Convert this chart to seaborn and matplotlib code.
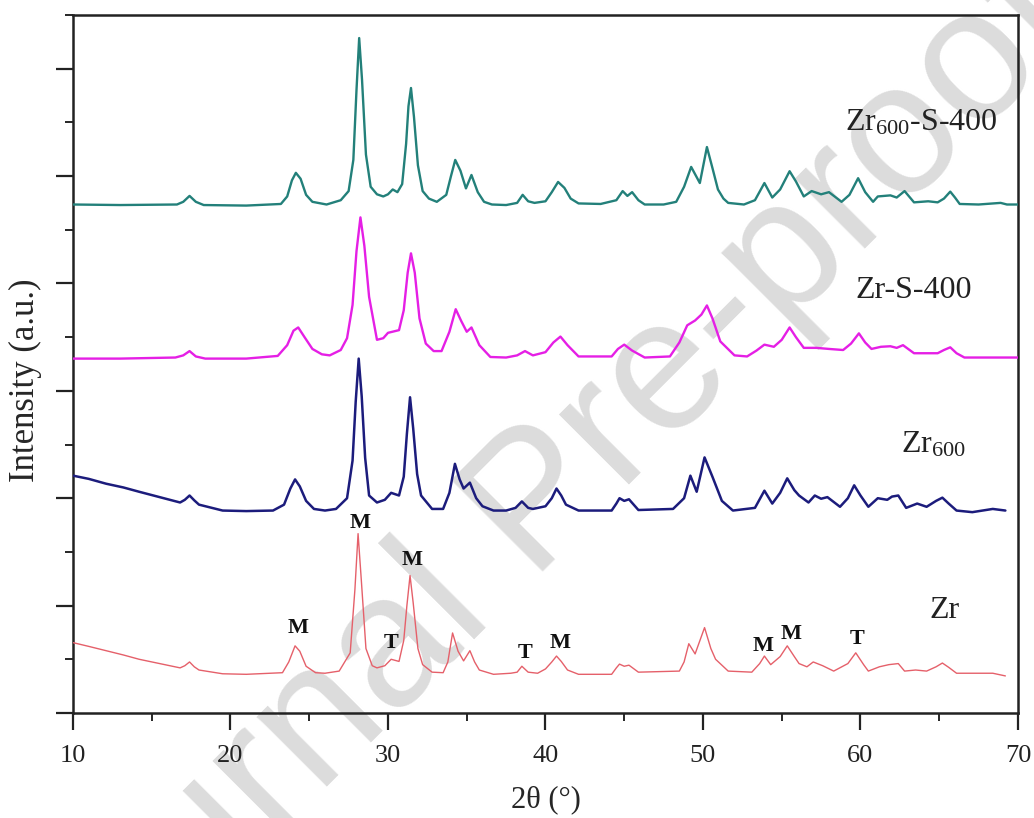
import matplotlib
matplotlib.use("Agg")
import matplotlib.pyplot as plt
import seaborn as sns
import pandas as pd
from matplotlib.ticker import MultipleLocator

# ---------------- data ----------------
tt_zr600s = [10, 13, 16.6, 17.0, 17.4, 17.8, 18.3, 21, 23.2, 23.6, 23.9, 24.15, 24.45, 24.8, 25.2, 26.1,
             27.0, 27.5, 27.8, 28.0, 28.17, 28.35, 28.6, 28.9, 29.3, 29.7, 30.0, 30.3, 30.6, 30.9, 31.15,
             31.3, 31.46, 31.65, 31.9, 32.2, 32.6, 33.1, 33.7, 34.0, 34.27, 34.6, 34.95, 35.3, 35.7, 36.1,
             36.6, 37.5, 38.2, 38.55, 38.9, 39.3, 40.0, 40.4, 40.8, 41.2, 41.6, 42.1, 43.5, 44.5, 44.9,
             45.2, 45.5, 45.9, 46.3, 47.5, 48.3, 48.8, 49.25, 49.8, 50.25, 50.6, 50.95, 51.3, 51.6, 52.6,
             53.3, 53.9, 54.4, 54.9, 55.5, 55.9, 56.4, 56.9, 57.5, 58.0, 58.8, 59.3, 59.85, 60.3, 60.8,
             61.1, 61.9, 62.3, 62.8, 63.4, 64.3, 64.9, 65.3, 65.7, 66.0, 66.3, 67.5, 68.9, 69.3, 70.0]
int_zr600s = [9.47, 9.46, 9.47, 9.52, 9.63, 9.52, 9.46, 9.45, 9.48, 9.62, 9.92, 10.06, 9.95, 9.65, 9.52, 9.47,
              9.55, 9.72, 10.3, 11.6, 12.57, 11.8, 10.4, 9.80, 9.66, 9.62, 9.66, 9.75, 9.70, 9.85, 10.6,
              11.3, 11.64, 11.1, 10.2, 9.72, 9.58, 9.52, 9.65, 10.0, 10.30, 10.1, 9.77, 10.02, 9.7, 9.52,
              9.47, 9.46, 9.50, 9.65, 9.53, 9.50, 9.53, 9.7, 9.89, 9.78, 9.58, 9.49, 9.48, 9.55, 9.72,
              9.63, 9.70, 9.55, 9.47, 9.47, 9.52, 9.8, 10.17, 9.87, 10.54, 10.15, 9.75, 9.58, 9.50, 9.47,
              9.55, 9.87, 9.6, 9.75, 10.09, 9.9, 9.62, 9.72, 9.66, 9.70, 9.52, 9.65, 9.96, 9.7, 9.52,
              9.62, 9.64, 9.60, 9.72, 9.51, 9.53, 9.51, 9.58, 9.71, 9.6, 9.48, 9.47, 9.50, 9.47, 9.47]

tt_zrs = [10, 13, 16.5, 17.0, 17.4, 17.8, 18.4, 21, 23.0, 23.6, 24.0, 24.3, 24.7, 25.2, 25.8, 26.3, 27.0,
          27.4, 27.75, 28.0, 28.25, 28.5, 28.8, 29.3, 29.7, 30.0, 30.7, 31.0, 31.25, 31.46, 31.7, 32.0,
          32.4, 32.9, 33.4, 33.9, 34.3, 34.65, 35.0, 35.3, 35.8, 36.5, 37.5, 38.2, 38.7, 39.2, 40.0, 40.5,
          40.95, 41.4, 42.1, 44.2, 44.6, 45.0, 45.5, 46.3, 47.9, 48.5, 49.0, 49.5, 49.9, 50.25, 50.6, 51.1,
          52.0, 52.8, 53.4, 53.9, 54.5, 55.0, 55.5, 55.9, 56.4, 57.2, 58.0, 58.9, 59.4, 59.9, 60.3, 60.7,
          61.3, 61.9, 62.3, 62.7, 63.4, 64.2, 64.9, 65.3, 65.7, 66.1, 66.6, 68.0, 70.0]
int_zrs = [6.60, 6.60, 6.62, 6.66, 6.74, 6.64, 6.60, 6.60, 6.65, 6.85, 7.12, 7.18, 7.0, 6.78, 6.68, 6.66, 6.76,
           6.98, 7.6, 8.6, 9.23, 8.7, 7.75, 6.95, 6.98, 7.08, 7.13, 7.5, 8.2, 8.56, 8.2, 7.35,
           6.88, 6.74, 6.74, 7.1, 7.52, 7.3, 7.1, 7.18, 6.85, 6.63, 6.62, 6.66, 6.74, 6.66, 6.72, 6.9,
           7.01, 6.85, 6.64, 6.64, 6.78, 6.86, 6.75, 6.62, 6.64, 6.9, 7.22, 7.31, 7.42, 7.59, 7.35, 6.92,
           6.66, 6.64, 6.75, 6.86, 6.82, 6.95, 7.18, 7.0, 6.80, 6.80, 6.78, 6.76, 6.88, 7.07, 6.9, 6.78,
           6.82, 6.83, 6.80, 6.85, 6.7, 6.70, 6.70, 6.76, 6.81, 6.7, 6.62, 6.62, 6.62]

tt_zr600 = [10, 11, 12.1, 13.2, 14.2, 15.5, 16.8, 17.1, 17.4, 17.7, 18.0, 19.5, 21, 22.7, 23.4, 23.8, 24.1,
            24.4, 24.8, 25.3, 26.0, 26.7, 27.4, 27.75, 27.95, 28.14, 28.33, 28.55, 28.8, 29.3, 29.8, 30.2,
            30.7, 31.0, 31.2, 31.4, 31.6, 31.85, 32.1, 32.8, 33.5, 33.9, 34.25, 34.55, 34.8, 35.2, 35.6, 36.0,
            36.7, 37.5, 38.1, 38.5, 38.9, 39.2, 40.0, 40.4, 40.7, 41.0, 41.3, 42.1, 44.2, 44.5, 44.7, 45.0,
            45.3, 45.9, 48.1, 48.8, 49.2, 49.6, 50.1, 50.6, 51.2, 51.9, 53.3, 53.9, 54.4, 54.9, 55.35, 55.8,
            56.1, 56.7, 57.1, 57.5, 57.9, 58.7, 59.2, 59.6, 60.0, 60.5, 61.1, 61.7, 62.0, 62.4, 62.9, 63.6,
            64.2, 64.8, 65.2, 65.6, 66.1, 67.1, 68.4, 69.2]
int_zr600 = [4.42, 4.36, 4.27, 4.20, 4.12, 4.02, 3.92, 3.97, 4.05, 3.96, 3.88, 3.77, 3.76, 3.77, 3.88, 4.18, 4.35,
             4.22, 3.95, 3.80, 3.77, 3.80, 4.0, 4.7, 5.8, 6.60, 5.9, 4.75, 4.05, 3.92, 3.97, 4.10,
             4.05, 4.4, 5.2, 5.88, 5.3, 4.45, 4.05, 3.80, 3.80, 4.1, 4.64, 4.35, 4.18, 4.29, 4.0, 3.85,
             3.77, 3.77, 3.82, 3.94, 3.82, 3.80, 3.85, 4.0, 4.18, 4.05, 3.88, 3.77, 3.77, 3.9, 4.0, 3.95,
             3.98, 3.78, 3.80, 4.0, 4.42, 4.12, 4.76, 4.4, 3.95, 3.77, 3.82, 4.14, 3.9, 4.1, 4.37, 4.15,
             4.05, 3.92, 4.05, 3.99, 4.02, 3.84, 4.0, 4.24, 4.05, 3.84, 4.0, 3.97, 4.03, 4.05, 3.82, 3.90,
             3.84, 3.95, 4.01, 3.9, 3.77, 3.74, 3.80, 3.77]

tt_zr = [10, 11, 12.1, 13.2, 14.2, 15.5, 16.8, 17.1, 17.4, 17.7, 18.0, 19.5, 21.0, 23.3, 23.7, 24.1, 24.4,
         24.8, 25.4, 26.0, 26.9, 27.6, 27.9, 28.1, 28.3, 28.6, 29.0, 29.3, 29.8, 30.2, 30.7, 31.0, 31.2,
         31.4, 31.6, 31.9, 32.2, 32.8, 33.5, 33.8, 34.1, 34.45, 34.8, 35.2, 35.5, 35.8, 36.7, 37.8, 38.2,
         38.5, 38.9, 39.5, 40.0, 40.4, 40.7, 41.0, 41.4, 42.1, 44.2, 44.5, 44.7, 45.0, 45.3, 45.9, 48.5,
         48.8, 49.1, 49.5, 50.1, 50.5, 50.8, 51.6, 53.1, 53.6, 53.9, 54.3, 54.9, 55.35, 55.8, 56.1, 56.6,
         57.0, 57.6, 58.3, 59.2, 59.7, 60.2, 60.5, 61.2, 61.8, 62.4, 62.8, 63.5, 64.2, 64.8, 65.2, 65.6,
         66.1, 67.5, 68.4, 69.2]
int_zr = [1.31, 1.24, 1.16, 1.08, 1.00, 0.92, 0.84, 0.88, 0.95, 0.86, 0.80, 0.73, 0.72, 0.75, 0.95, 1.25, 1.15,
          0.87, 0.75, 0.74, 0.78, 1.12, 2.3, 3.34, 2.5, 1.2, 0.88, 0.84, 0.88, 1.00, 0.96, 1.35, 2.0,
          2.56, 2.05, 1.2, 0.90, 0.76, 0.75, 0.95, 1.49, 1.15, 0.97, 1.16, 0.95, 0.80, 0.72, 0.74, 0.76,
          0.87, 0.76, 0.74, 0.82, 0.95, 1.06, 0.96, 0.80, 0.72, 0.72, 0.84, 0.91, 0.87, 0.89, 0.76, 0.78,
          0.95, 1.29, 1.10, 1.59, 1.2, 1.0, 0.78, 0.76, 0.92, 1.06, 0.90, 1.05, 1.25, 1.05, 0.92, 0.86,
          0.95, 0.88, 0.78, 0.92, 1.12, 0.9, 0.78, 0.86, 0.90, 0.92, 0.78, 0.80, 0.78, 0.86, 0.93, 0.85,
          0.74, 0.74, 0.74, 0.69]

series_names = ["Zr$_{600}$-S-400", "Zr-S-400", "Zr$_{600}$", "Zr"]
series_colors = ["#23807a", "#e51fe5", "#1c1c7c", "#e5606a"]
label_pos = [(59.0, 11.0), (59.7, 7.87), (62.6, 5.0), (64.4, 1.9)]

phase_labels = ["M", "M", "T", "M", "T", "M", "M", "M", "T"]
phase_x = [24.3, 28.2, 30.2, 31.5, 38.7, 40.9, 53.8, 55.6, 59.8]
phase_y = [1.59, 3.53, 1.31, 2.84, 1.12, 1.31, 1.25, 1.47, 1.38]

x_ticks = [10, 20, 30, 40, 50, 60, 70]

# ---------------- style ----------------
sns.set_style("ticks")
plt.rcParams["font.family"] = ["Liberation Serif", "DejaVu Serif"]
plt.rcParams["mathtext.fontset"] = "custom"
plt.rcParams["mathtext.rm"] = "Liberation Serif"
plt.rcParams["mathtext.it"] = "Liberation Serif:italic"

fig = plt.figure(figsize=(10.34, 8.18), dpi=100)
ax = fig.add_axes([0.0706, 0.1284, 0.9139, 0.8533])

# watermark
ax.text(0.521, 0.381, "Journal Pre-proof", transform=fig.transFigure, rotation=45,
        rotation_mode="anchor", ha="center", va="center", fontsize=135,
        family="Liberation Sans", color="#dcdcdc", zorder=0.5, clip_on=False)

data = [(tt_zr600s, int_zr600s), (tt_zrs, int_zrs), (tt_zr600, int_zr600), (tt_zr, int_zr)]
widths = [1.7, 1.7, 1.8, 1.0]
for (xx, yy), name, col, lw in zip(data, series_names, series_colors, widths):
    df = pd.DataFrame({"2theta": xx, "I": yy})
    sns.lineplot(data=df, x="2theta", y="I", ax=ax, color=col, lw=lw, sort=False,
                 estimator=None, zorder=3)

for name, (lx, ly) in zip(series_names, label_pos):
    ax.text(lx, ly, name, fontsize=23, ha="left", va="center", color="#222222", zorder=4)

for lab, px, py in zip(phase_labels, phase_x, phase_y):
    ax.text(px, py, lab, fontsize=16, fontweight="bold", ha="center", va="center",
            color="#111111", zorder=4)

ax.set_xlim(10, 70)
ax.set_ylim(0, 13)
ax.set_xticks(x_ticks)
ax.xaxis.set_minor_locator(MultipleLocator(5))
ax.yaxis.set_major_locator(MultipleLocator(2))
ax.yaxis.set_minor_locator(MultipleLocator(1))
ax.set_yticklabels([])
ax.tick_params(which="major", length=12, width=1.6, direction="out", labelsize=19, colors="#222222")
ax.tick_params(which="minor", length=6, width=1.4, direction="out")
ax.tick_params(axis="x", pad=11)
for sp in ax.spines.values():
    sp.set_linewidth(1.8)
    sp.set_color("#222222")

ax.set_xlabel("2θ (°)", fontsize=22, labelpad=13)
ax.set_ylabel("Intensity (a.u.)", fontsize=25)
ax.yaxis.set_label_coords(-0.033, 0.477)

fig.savefig("out.png", dpi=100)
